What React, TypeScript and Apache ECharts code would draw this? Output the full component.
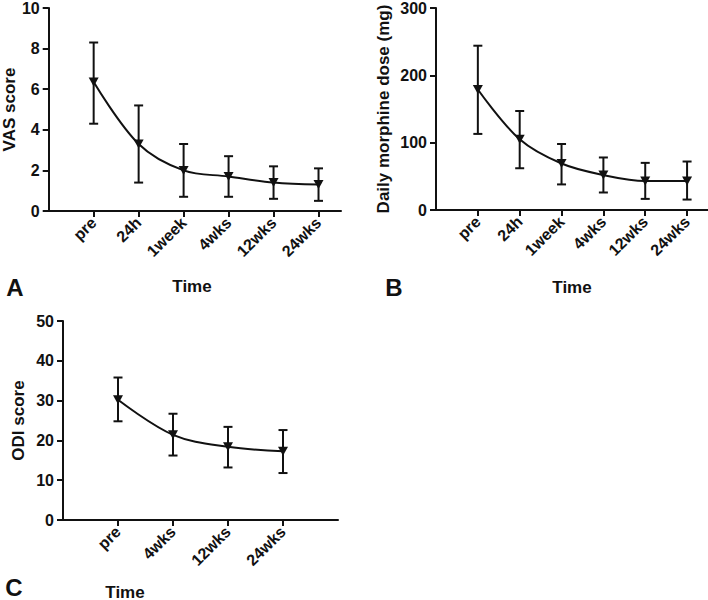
import React, { useEffect, useRef } from "react";
import * as echarts from "echarts";

const catsAB = ["pre", "24h", "1week", "4wks", "12wks", "24wks"];
const catsC = ["pre", "4wks", "12wks", "24wks"];

const vasMean = [6.35, 3.3, 2.0, 1.7, 1.4, 1.3];
const vasLow = [4.3, 1.4, 0.7, 0.7, 0.6, 0.5];
const vasHigh = [8.3, 5.2, 3.3, 2.7, 2.2, 2.1];

const morMean = [179, 105, 69, 52, 43, 43];
const morLow = [113, 62, 38, 26, 16.5, 15.5];
const morHigh = [244, 147, 98, 78, 70, 72];

const odiMean = [30.2, 21.4, 18.4, 17.3];
const odiLow = [24.8, 16.2, 13.2, 11.8];
const odiHigh = [35.8, 26.7, 23.4, 22.6];

const FONT = "'Liberation Sans', Arial, Helvetica, sans-serif";
const INK = "#111";

function errSeries(idx: number, low: number[], high: number[]) {
  return {
    type: "custom",
    xAxisIndex: idx,
    yAxisIndex: idx,
    z: 3,
    data: low.map((l, i) => [i + 1, l, high[i]]),
    renderItem: (params: any, api: any) => {
      const x = api.value(0);
      const lo = api.coord([x, api.value(1)]);
      const hi = api.coord([x, api.value(2)]);
      const w = 4.5;
      const style = { stroke: INK, lineWidth: 2 };
      return {
        type: "group",
        children: [
          { type: "line", shape: { x1: lo[0], y1: lo[1], x2: hi[0], y2: hi[1] }, style },
          { type: "line", shape: { x1: hi[0] - w, y1: hi[1], x2: hi[0] + w, y2: hi[1] }, style },
          { type: "line", shape: { x1: lo[0] - w, y1: lo[1], x2: lo[0] + w, y2: lo[1] }, style },
        ],
      };
    },
  };
}

function meanSeries(idx: number, mean: number[]) {
  return {
    type: "line",
    xAxisIndex: idx,
    yAxisIndex: idx,
    z: 4,
    smooth: 0.35,
    data: mean.map((v, i) => [i + 1, v]),
    symbol: "triangle",
    symbolRotate: 180,
    symbolSize: [10, 9],
    itemStyle: { color: INK },
    lineStyle: { color: INK, width: 2 },
  };
}

function xAxis(idx: number, cats: string[], max: number) {
  const vals = cats.map((_, i) => i + 1);
  return {
    type: "value",
    gridIndex: idx,
    min: 0,
    max,
    splitLine: { show: false },
    axisLine: { show: true, onZero: false, lineStyle: { color: INK, width: 2 } },
    axisTick: { show: true, customValues: vals, length: 6, lineStyle: { color: INK, width: 2 } },
    axisLabel: {
      customValues: vals,
      rotate: 45,
      margin: 9,
      fontFamily: FONT,
      fontWeight: "bold",
      fontSize: 16,
      color: INK,
      formatter: (v: number) => cats[Math.round(v) - 1] ?? "",
    },
  };
}

function yAxis(idx: number, max: number, interval: number, name: string, nameGap: number) {
  return {
    type: "value",
    gridIndex: idx,
    min: 0,
    max,
    interval,
    name,
    nameLocation: "middle",
    nameGap,
    nameTextStyle: { fontFamily: FONT, fontWeight: "bold", fontSize: 17, color: INK },
    splitLine: { show: false },
    axisLine: { show: true, lineStyle: { color: INK, width: 2 } },
    axisTick: { show: true, length: 6, lineStyle: { color: INK, width: 2 } },
    axisLabel: { margin: 9, fontFamily: FONT, fontWeight: "bold", fontSize: 16, color: INK },
  };
}

function txt(x: number, y: number, text: string, size: number) {
  return {
    type: "text",
    x,
    y,
    style: {
      text,
      fontFamily: FONT,
      fontWeight: "bold",
      fontSize: size,
      fill: INK,
      textAlign: "center",
      textVerticalAlign: "middle",
    },
  };
}

export default function App() {
  const ref = useRef<HTMLDivElement>(null);
  useEffect(() => {
    const chart = echarts.init(ref.current!, null, { renderer: "svg" });
    chart.setOption({
      animation: false,
      backgroundColor: "#fff",
      grid: [
        { left: 43, top: 8, width: 298, height: 203 },
        { left: 436, top: 5, width: 272, height: 205 },
        { left: 63, top: 321, width: 275, height: 199 },
      ],
      xAxis: [xAxis(0, catsAB, 6.5), xAxis(1, catsAB, 6.5), xAxis(2, catsC, 5)],
      yAxis: [
        yAxis(0, 10, 2, "VAS score", 26),
        yAxis(1, 300, 100, "Daily morphine dose (mg)", 44),
        yAxis(2, 50, 10, "ODI score", 36),
      ],
      series: [
        errSeries(0, vasLow, vasHigh),
        meanSeries(0, vasMean),
        errSeries(1, morLow, morHigh),
        meanSeries(1, morMean),
        errSeries(2, odiLow, odiHigh),
        meanSeries(2, odiMean),
      ],
      graphic: [
        txt(192, 286, "Time", 17),
        txt(572, 287, "Time", 17),
        txt(125, 592, "Time", 17),
        txt(15, 287, "A", 24),
        txt(394, 287, "B", 24),
        txt(14, 587, "C", 24),
      ],
    });
    return () => chart.dispose();
  }, []);
  return <div ref={ref} style={{ position: "fixed", left: 0, top: 0, width: 708, height: 600 }} />;
}
